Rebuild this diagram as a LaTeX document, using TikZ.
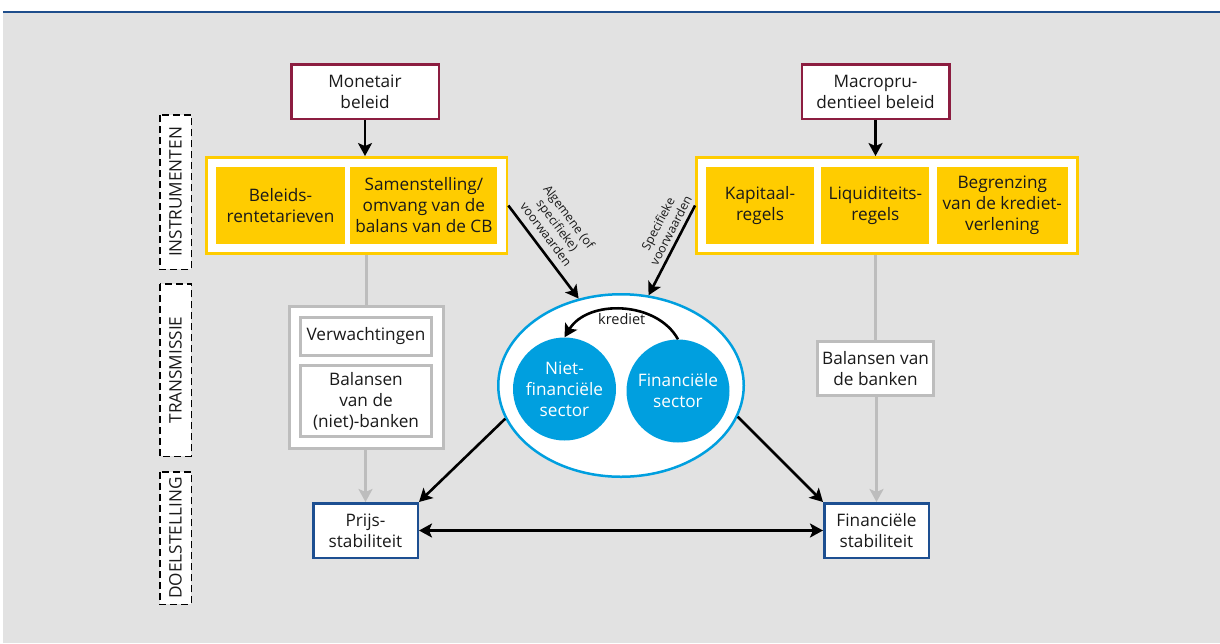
\documentclass[tikz,border=0pt]{standalone}
\usepackage{fontspec}
\setmainfont{Open Sans}
\usetikzlibrary{arrows.meta,positioning,fit,shapes.geometric,backgrounds}
\definecolor{mpRed}{HTML}{8C1D40}
\definecolor{mpYellow}{HTML}{FFCC00}
\definecolor{mpBlue}{HTML}{1D4F91}
\definecolor{mpCyan}{HTML}{009FDF}
\definecolor{mpGrey}{HTML}{BDBDBD}
\definecolor{mpBack}{HTML}{E2E2E2}
\definecolor{mpRule}{HTML}{1F4E8C}
\definecolor{mpText}{HTML}{1A1A1A}
\tikzset{
  mpnode/.style={align=center, font=\fontsize{17.2}{21}\selectfont, text=mpText, inner sep=2pt},
  policy/.style={mpnode, draw=mpRed, line width=2.5pt, fill=white, minimum width=147.5pt, minimum height=54.5pt},
  instr/.style={mpnode, fill=mpYellow, minimum height=77pt},
  instrframe/.style={draw=mpYellow, line width=2.5pt, fill=white, inner sep=9.5pt},
  trans/.style={mpnode, draw=mpGrey, line width=3pt, fill=white},
  transframe/.style={draw=mpGrey, line width=3pt, fill=white, inner sep=10pt},
  goal/.style={mpnode, draw=mpBlue, line width=2.5pt, fill=white, minimum width=104.5pt, minimum height=54.5pt},
  sector/.style={mpnode, circle, fill=mpCyan, text=white, minimum size=103pt, inner sep=0pt},
  sectorset/.style={ellipse, draw=mpCyan, line width=2.5pt, fill=white, minimum width=245.5pt, minimum height=182.5pt},
  phase/.style={mpnode, draw=black, dash pattern=on 7pt off 4pt, line width=1.5pt, fill=white, rotate=90, minimum height=31.5pt},
  effect/.style={-{Stealth[length=13pt, width=14pt, inset=3pt]}, line width=2.6pt, black},
  effectboth/.style={{Stealth[length=13pt, width=14pt, inset=3pt]}-{Stealth[length=13pt, width=14pt, inset=3pt]}, line width=2.6pt, black},
  transline/.style={line width=3pt, mpGrey},
  transarrow/.style={-{Stealth[length=13pt, width=14pt, inset=3pt]}, line width=3pt, mpGrey},
  cond/.style={align=center, font=\fontsize{12.3}{14.5}\selectfont, text=mpText, inner sep=2pt},
  credit/.style={font=\fontsize{14.5}{16}\selectfont, text=mpText, inner sep=2pt}
}
\begin{document}
\begin{tikzpicture}[x=1pt, y=-1pt]
  \useasboundingbox (0,0) rectangle (1220,643);

  % fasen
  \node[phase, minimum width=154.5pt] (phI) at (175.5,192) {INSTRUMENTEN};
  \node[phase, minimum width=172.5pt] (phT) at (175.5,370) {TRANSMISSIE};
  \node[phase, minimum width=132.5pt] (phD) at (175.5,538) {DOELSTELLING};

  % beleid
  \node[policy] (mon) at (365,91.5) {Monetair\\beleid};
  \node[policy] (macro) at (875.5,91.5) {Macropru-\\dentieel beleid};

  % instrumenten
  \node[instr, minimum width=129pt] (rente) at (280.5,205.5) {Beleids-\\rentetarieven};
  \node[instr, minimum width=147pt, right=5pt of rente] (balcb) {Samenstelling/\\omvang van de\\balans van de CB};
  \node[instr, minimum width=108pt] (kap) at (760,205.5) {Kapitaal-\\regels};
  \node[instr, minimum width=108pt, right=7pt of kap] (liq) {Liquiditeits-\\regels};
  \node[instr, minimum width=131pt, right=7pt of liq] (kred) {Begrenzing\\van de krediet-\\verlening};

  % transmissie
  \node[trans, minimum width=131pt, minimum height=38pt] (verw) at (366,336.5) {Verwachtingen};
  \node[trans, minimum width=131pt, minimum height=71pt, below=7pt of verw] (balnb) {Balansen\\van de\\(niet)-banken};
  \node[trans, minimum width=116pt, minimum height=54pt] (balb) at (875.5,368.5) {Balansen van\\de banken};

  % sectoren
  \node[sectorset] (ell) at (621,385.5) {};
  \node[sector] (niet) at (564.5,389) {Niet-\\financiële\\sector};
  \node[sector] (fin) at (678,391) {Financiële\\sector};

  % doelstellingen
  \node[goal] (prijs) at (365.5,530.5) {Prijs-\\stabiliteit};
  \node[goal] (finstab) at (876.5,530.5) {Financiële\\stabiliteit};

  \begin{scope}[on background layer]
    \fill[mpBack] (3,13) rectangle (1220,643);
    \fill[mpRule] (3,10.5) rectangle (1220,13);
    \node[instrframe, fit=(rente) (balcb)] (lfr) {};
    \node[instrframe, fit=(kap) (liq) (kred)] (rfr) {};
    \node[transframe, fit=(verw) (balnb)] (ltr) {};
    \draw[transline] (ltr.north |- lfr.south) -- (ltr.north);
    \draw[transarrow] (ltr.south -| prijs) -- (prijs);
    \draw[transline] (balb.north |- rfr.south) -- (balb);
    \draw[transarrow] (balb.south -| finstab) -- (finstab);
  \end{scope}

  \draw[effect] (mon) -- (mon.south |- lfr.north);
  \draw[effect] (macro) -- (macro.south |- rfr.north);
  \draw[effect] (lfr.east) -- node[cond, sloped, above=5pt, pos=0.39] {Algemene (of\\specifieke)\\voorwaarden} (ell.116);
  \draw[effect] (rfr.west) -- node[cond, sloped, above=2pt, pos=0.33] {Specifieke\\voorwaarden} (ell.73);
  \draw[effect] (fin.north) to[bend right=60] node[credit, below=1pt] {krediet} (niet.north);
  \draw[effect] (ell.196) -- (prijs.north east);
  \draw[effect] (ell.345) -- (finstab.north west);
  \draw[effectboth] (prijs) -- (finstab);
\end{tikzpicture}
\end{document}
